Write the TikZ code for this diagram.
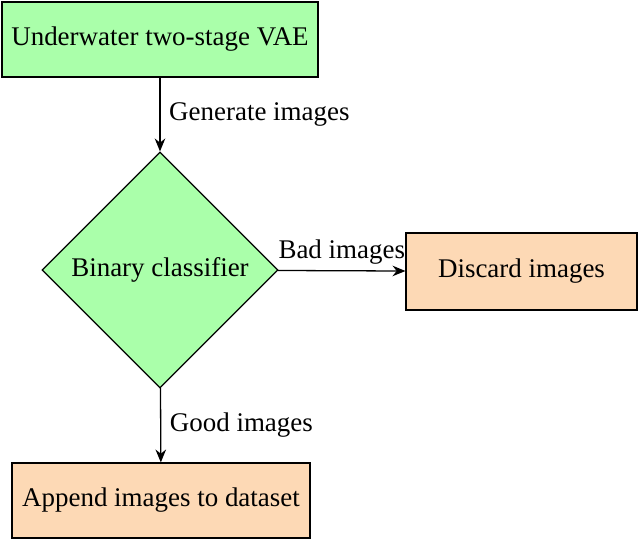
\documentclass[tikz,border=0pt]{standalone}
\usepackage{fontspec}
\setmainfont{Liberation Serif}
\usetikzlibrary{shapes.geometric,arrows.meta}
\definecolor{gfill}{RGB}{170,255,170}
\definecolor{ofill}{RGB}{253,217,181}
\begin{document}
\begin{tikzpicture}[x=0.03cm,y=-0.03cm,
  font=\fontsize{23}{27}\selectfont,line width=1pt,
  box/.style={draw,rectangle,inner sep=0pt},
  arr/.style={draw,-{Stealth[length=11pt,width=9pt]},line width=1.1pt}]
\useasboundingbox (0,0) rectangle (640,542);
\node[box,fill=gfill,minimum width=316*0.03cm,minimum height=75*0.03cm] (vae) at (160,39.5) {Underwater two-stage VAE};
\node[draw,diamond,fill=gfill,minimum width=236*0.03cm,minimum height=236*0.03cm,inner sep=0pt] (cls) at (160,270) {Binary classifier};
\node[box,fill=ofill,minimum width=231*0.03cm,minimum height=77*0.03cm] (dis) at (521.5,271.5) {Discard images};
\node[box,fill=ofill,minimum width=298*0.03cm,minimum height=75*0.03cm] (app) at (161,500.5) {Append images to dataset};
\draw[arr] (vae) -- node[right,xshift=4pt] (l1) {Generate images} (cls);
\draw[arr] (cls) -- node[above,yshift=2pt] (l2) {Bad images} (dis);
\draw[arr] (cls) -- node[right,xshift=4pt] (l3) {Good images} (app);
\end{tikzpicture}
\end{document}
